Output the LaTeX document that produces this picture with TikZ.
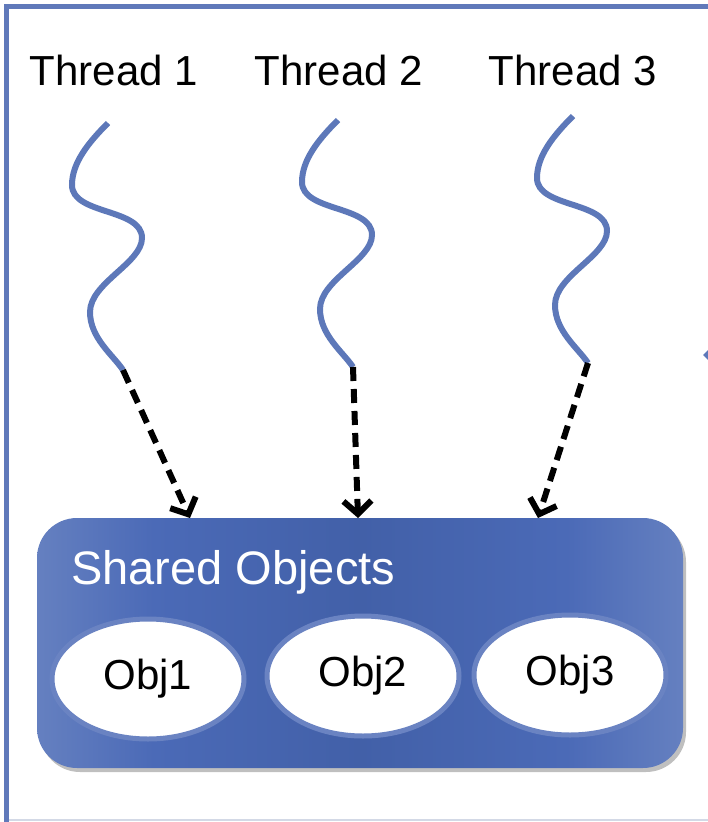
\documentclass[tikz,border=0pt]{standalone}
\usepackage{fontspec}
\setmainfont{Liberation Sans}
\usepackage{tikz}
\usetikzlibrary{shapes.geometric,arrows.meta,shadows}

\definecolor{frameblue}{HTML}{6079BA}
\definecolor{framegray}{HTML}{D3D9E6}
\definecolor{waveblue}{HTML}{5D78B9}
\definecolor{objrim}{HTML}{6A83C2}
\definecolor{boxedge}{HTML}{6580C0}
\definecolor{boxbright}{HTML}{4B6AB7}
\definecolor{boxdark}{HTML}{4260A8}
\pgfdeclarehorizontalshading{sharedfill}{100bp}{color(0bp)=(boxedge); color(25bp)=(boxedge); color(34bp)=(boxbright); color(50bp)=(boxdark); color(66bp)=(boxbright); color(75bp)=(boxedge); color(100bp)=(boxedge)}

\begin{document}
\begin{tikzpicture}[x=1pt, y=-1pt,
    wave/.style={line width=6pt, color=waveblue},
    call/.style={line width=6pt, dash pattern=on 14pt off 8pt, -{Straight Barb[length=13pt,width=28pt]}},
    threadtext/.style={anchor=base, inner sep=0pt, font=\fontsize{42}{48}\selectfont},
    objnode/.style={ellipse, draw=objrim, line width=5pt, fill=white, inner sep=0pt,
        minimum width=192pt, minimum height=120pt, font=\fontsize{42}{48}\selectfont}]
    \useasboundingbox (0,0) rectangle (708,822);
    % frame
    \draw[line width=2pt, framegray] (6,820)--(708,820);
    \draw[line width=5pt, frameblue] (6,822)--(6,6)--(708,6);
    \fill[waveblue] (703,355)--(708,350)--(708,360)--cycle;
    % threads
    \node[threadtext] (t1) at (114,85) {Thread 1};
    \node[threadtext] (t2) at (339,85) {Thread 2};
    \node[threadtext] (t3) at (573,85) {Thread 3};
    \foreach \n/\x/\y in {1/108/123, 2/338/120, 3/573/116} {
        \begin{scope}[shift={(\x,\y)}]
            \draw[wave] (0,0) .. controls (-20,20) and (-36,40) .. (-36,62)
                .. controls (-36,92) and (34,85) .. (34,115)
                .. controls (34,140) and (-18,160) .. (-18,189)
                .. controls (-18,215) and (5,232) .. (15,247);
            \coordinate (w\n) at (15,247);
        \end{scope}
    }
    % shared objects
    \node[rounded corners=40pt, shading=sharedfill, minimum width=646pt, minimum height=250pt,
        drop shadow={shadow xshift=3pt, shadow yshift=-4pt, opacity=0.5}] (box) at (360,643) {};
    \node[anchor=base west, inner sep=0pt, text=white, font=\fontsize{47}{54}\selectfont] (shared) at (71,584) {Shared Objects};
    \node[objnode] (o1) at (148,679) {Obj1};
    \node[objnode] (o2) at (363,676) {Obj2};
    \node[objnode] (o3) at (570,675) {Obj3};
    % calls
    \coordinate (a1) at (190,518);
    \coordinate (a2) at (358,518);
    \coordinate (a3) at (538,518);
    \draw[call] (w1)--(a1);
    \draw[call] (w2)--(a2);
    \draw[call] (w3)--(a3);
\end{tikzpicture}
\end{document}
